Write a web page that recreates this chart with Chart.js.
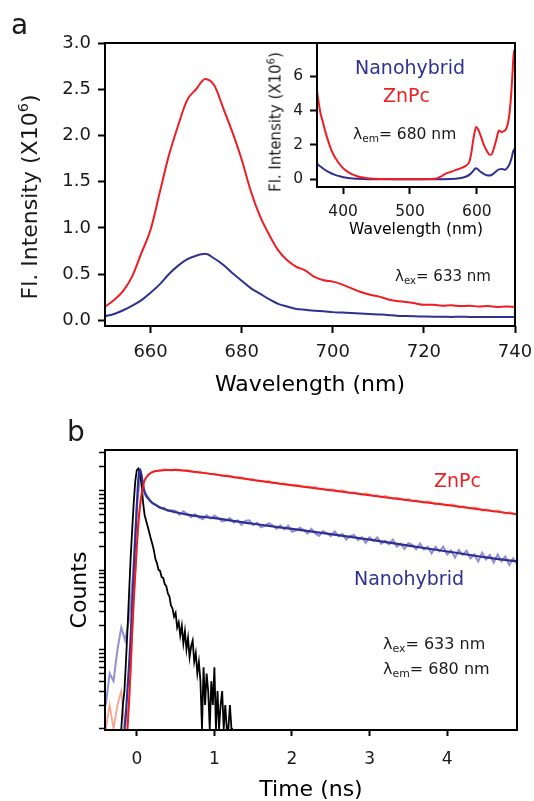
<!DOCTYPE html>
<html>
<head>
<meta charset="utf-8">
<script src="https://cdn.jsdelivr.net/npm/chart.js@4.4.1/dist/chart.umd.min.js"></script>
<style>
  body { margin: 0; background: #fff; }
  #fig { position: relative; width: 534px; height: 801px; overflow: hidden; font-family: 'DejaVu Sans', sans-serif; color: #1a1a1a; }
  canvas { position: absolute; }
  .lbl { position: absolute; white-space: nowrap; line-height: 1; }
  .rot { transform: translate(-50%, -50%) rotate(-90deg); }
  .sub { font-size: 0.68em; position: relative; top: 0.32em; }
  .sup { font-size: 0.66em; position: relative; top: -0.6em; }
</style>
</head>
<body>
<div id="fig">
  <canvas id="emission" width="534" height="400" style="left:0;top:0"></canvas>
  <canvas id="excitation" width="272" height="215" style="left:262px;top:30px"></canvas>
  <canvas id="decay" width="534" height="401" style="left:0;top:400px"></canvas>

  <div class="lbl" style="left:11px;top:11px;font-size:28px">a</div>
  <div class="lbl rot" style="left:29.5px;top:197px;font-size:22px">Fl. Intensity (X10<span class="sup">6</span>)</div>
  <div class="lbl rot" style="left:275.5px;top:121.5px;font-size:15px">Fl. Intensity (X10<span class="sup">6</span>)</div>
  <div class="lbl" style="left:355px;top:58px;font-size:19px;color:#2e3192">Nanohybrid</div>
  <div class="lbl" style="left:383px;top:86px;font-size:19px;color:#ee1d23">ZnPc</div>
  <div class="lbl" style="left:353px;top:127px;font-size:15.5px">λ<span class="sub">em</span>= 680 nm</div>
  <div class="lbl" style="left:395px;top:269px;font-size:15px">λ<span class="sub">ex</span>= 633 nm</div>

  <div class="lbl" style="left:67px;top:418px;font-size:28px">b</div>
  <div class="lbl" style="left:434px;top:471px;font-size:19px;color:#ee1d23">ZnPc</div>
  <div class="lbl" style="left:354px;top:569px;font-size:19px;color:#2e3192">Nanohybrid</div>
  <div class="lbl" style="left:383px;top:636px;font-size:16px">λ<span class="sub">ex</span>= 633 nm</div>
  <div class="lbl" style="left:383px;top:661px;font-size:16px">λ<span class="sub">em</span>= 680 nm</div>
</div>

<script>
// emission spectra, excitation at 633 nm (intensity in units of 10^6)
const wavelength = [
  650, 652, 654, 656, 658, 660, 662, 664, 666, 668,
  670, 672, 674, 676, 678, 680, 682, 684, 686, 688,
  690, 692, 694, 696, 698, 700, 702, 704, 706, 708,
  710, 712, 714, 716, 718, 720, 722, 724, 726, 728,
  730, 732, 734, 736, 738, 740,
];
const znpcEmission = [
  0.15, 0.22, 0.32, 0.48, 0.73, 0.98, 1.38, 1.78, 2.1, 2.38,
  2.5, 2.61, 2.54, 2.29, 2.03, 1.74, 1.4, 1.13, 0.93, 0.76,
  0.65, 0.58, 0.54, 0.47, 0.435, 0.42, 0.39, 0.35, 0.31, 0.28,
  0.26, 0.23, 0.21, 0.2, 0.185, 0.17, 0.17, 0.16, 0.165, 0.155,
  0.16, 0.15, 0.155, 0.145, 0.15, 0.145,
];
const hybridEmission = [
  0.045, 0.07, 0.11, 0.16, 0.22, 0.3, 0.39, 0.5, 0.59, 0.66,
  0.7, 0.72, 0.67, 0.6, 0.51, 0.43, 0.35, 0.29, 0.23, 0.18,
  0.15, 0.125, 0.115, 0.105, 0.1, 0.09, 0.085, 0.08, 0.075, 0.07,
  0.065, 0.06, 0.052, 0.048, 0.045, 0.043, 0.04, 0.04, 0.038, 0.04,
  0.038, 0.037, 0.036, 0.037, 0.036, 0.036,
];
const wavelengthTicks = [660, 680, 700, 720, 740];
const intensityTicks = [0, 0.5, 1, 1.5, 2, 2.5, 3];

// excitation spectra, emission at 680 nm
const znpcExcWl = [
  361, 363, 366, 370, 374, 378, 382, 386, 390, 394,
  400, 406, 413, 421, 430, 440, 455, 470, 490, 510,
  530, 540, 546, 552, 560, 570, 578, 584, 589, 592,
  595, 599, 602, 606, 611, 615, 619, 622, 625, 629,
  633, 637, 640, 644, 648, 651, 653, 655, 657,
];
const znpcExcitation = [
  5.15, 4.6, 3.9, 3.3, 2.7, 2.2, 1.75, 1.42, 1.15, 0.92,
  0.65, 0.46, 0.3, 0.18, 0.1, 0.05, 0.02, 0.01, 0, 0,
  0.02, 0.05, 0.15, 0.3, 0.42, 0.56, 0.68, 0.8, 1.05, 1.6,
  2.4, 3.05, 2.9, 2.5, 1.95, 1.65, 1.43, 1.45, 1.75, 2.3,
  2.85, 2.75, 2.8, 2.95, 3.6, 4.8, 6.0, 7.3, 7.6,
];
const hybridExcWl = [
  361, 366, 371, 376, 382, 388, 395, 403, 411, 420,
  436, 500, 560, 574, 584, 590, 595, 598, 601, 605,
  611, 617, 622, 627, 633, 638, 642, 646, 649, 652,
  654, 657,
];
const hybridExcitation = [
  0.9, 0.75, 0.6, 0.47, 0.35, 0.26, 0.18, 0.11, 0.06, 0.03,
  0, 0, 0.02, 0.06, 0.16, 0.3, 0.5, 0.65, 0.6, 0.45,
  0.3, 0.22, 0.25, 0.4, 0.58, 0.6, 0.55, 0.7, 0.9, 1.25,
  1.6, 1.8,
];
const excWlTicks = [400, 500, 600];
const excIntensityTicks = [0, 2, 4, 6];

// fluorescence decays (ns, counts)
const decayTime = [
  -0.4, -0.35, -0.3, -0.25, -0.2, -0.15, -0.1, -0.05, 0, 0.05,
  0.1, 0.15, 0.2, 0.25, 0.3, 0.35, 0.4, 0.45, 0.5, 0.55,
  0.6, 0.65, 0.7, 0.75, 0.8, 0.85, 0.9, 0.95, 1, 1.05,
  1.1, 1.15, 1.2, 1.25, 1.3, 1.35, 1.4, 1.45, 1.5, 1.55,
  1.6, 1.65, 1.7, 1.75, 1.8, 1.85, 1.9, 1.95, 2, 2.05,
  2.1, 2.15, 2.2, 2.25, 2.3, 2.35, 2.4, 2.45, 2.5, 2.55,
  2.6, 2.65, 2.7, 2.75, 2.8, 2.85, 2.9, 2.95, 3, 3.05,
  3.1, 3.15, 3.2, 3.25, 3.3, 3.35, 3.4, 3.45, 3.5, 3.55,
  3.6, 3.65, 3.7, 3.75, 3.8, 3.85, 3.9, 3.95, 4, 4.05,
  4.1, 4.15, 4.2, 4.25, 4.3, 4.35, 4.4, 4.45, 4.5, 4.55,
  4.6, 4.65, 4.7, 4.75, 4.8, 4.85, 4.9,
];
const znpcCounts = [
  1, 2, 1, 2, 3, 1, 2, 28, 210, 780,
  1370, 1610, 1735, 1801, 1781, 1870, 1846, 1791, 1883, 1834,
  1777, 1831, 1793, 1699, 1761, 1683, 1693, 1617, 1659, 1601,
  1529, 1569, 1559, 1471, 1491, 1492, 1399, 1415, 1406, 1318,
  1353, 1320, 1340, 1256, 1276, 1208, 1251, 1210, 1168, 1198,
  1169, 1107, 1147, 1109, 1125, 1055, 1072, 1015, 1052, 1026,
  982, 1016, 973, 930, 964, 931, 891, 932, 901, 861,
  884, 828, 866, 829, 793, 822, 802, 767, 795, 738,
  764, 738, 707, 738, 714, 669, 700, 677, 648, 677,
  655, 614, 643, 621, 594, 621, 600, 563, 588, 569,
  544, 569, 544, 515, 539, 526, 498,
];
const hybridCounts = [
  2, 5, 4, 10, 19, 13, 24, 85, 650, 1690,
  990, 815, 690, 672, 605, 612, 560, 571, 558, 500,
  551, 510, 464, 508, 464, 438, 493, 449, 488, 454,
  412, 422, 454, 396, 426, 372, 421, 426, 370, 398,
  347, 361, 391, 368, 331, 367, 327, 366, 305, 316,
  343, 323, 290, 332, 291, 271, 312, 292, 268, 308,
  268, 285, 243, 271, 279, 239, 260, 221, 260, 234,
  259, 215, 234, 212, 243, 198, 216, 185, 220, 209,
  183, 217, 182, 198, 162, 197, 173, 198, 158, 177,
  144, 179, 157, 176, 141, 158, 129, 166, 136, 156,
  124, 158, 130, 149, 116, 141, 120,
];

// instrument response
const irfTime = [
  -0.2, -0.18, -0.16, -0.14, -0.12, -0.1, -0.08, -0.06, -0.04, -0.02,
  0, 0.02, 0.04, 0.06, 0.08, 0.1, 0.12, 0.14, 0.16, 0.18,
  0.2, 0.22, 0.24, 0.26, 0.28, 0.3, 0.32, 0.34, 0.36, 0.38,
  0.4, 0.42, 0.44, 0.46, 0.48, 0.5, 0.52, 0.54, 0.56, 0.58,
  0.6, 0.62, 0.64, 0.66, 0.68, 0.7, 0.72, 0.74, 0.76, 0.78,
  0.8, 0.82, 0.84, 0.86, 0.88, 0.9, 0.92, 0.94, 0.96, 0.98,
  1, 1.02, 1.04, 1.06, 1.08, 1.1, 1.12, 1.14, 1.16, 1.18,
  1.2, 1.22, 1.24,
];
const irfCounts = [
  1, 2, 3, 7, 18, 50, 140, 320, 700, 1320,
  1820, 1900, 1650, 1250, 720, 500, 420, 355, 300, 250,
  214, 178, 138, 122, 101, 98, 82, 80, 67, 63,
  51, 47, 36, 33, 26, 29, 19, 22, 15, 20,
  12, 17, 10, 14, 8, 11, 13, 7, 9, 5,
  7, 4, 1, 6, 2, 5, 3, 1, 4, 2,
  6, 1, 3, 1, 2, 3, 1, 2, 1, 1,
  2, 1, 1,
];

// fitted decays
const znpcFitTime = [
  -0.12, -0.1, -0.08, -0.06, -0.04, -0.02, 0, 0.02, 0.04, 0.06,
  0.08, 0.1, 0.15, 0.2, 0.3, 0.4, 0.5, 0.7, 0.9, 1.2,
  1.5, 2, 2.5, 3, 3.5, 4, 4.5, 4.9,
];
const znpcFit = [
  1, 2.2, 5.6, 16, 40, 89, 200, 398, 631, 891,
  1150, 1350, 1585, 1718, 1799, 1828, 1828, 1758, 1660, 1514,
  1365, 1175, 1016, 881, 762, 661, 571, 507,
];
const hybridFitTime = [
  -0.16, -0.14, -0.12, -0.1, -0.08, -0.06, -0.04, -0.02, 0, 0.02,
  0.04, 0.06, 0.08, 0.1, 0.15, 0.2, 0.3, 0.5, 0.75, 1,
  1.5, 2, 2.5, 3, 3.5, 4, 4.5, 4.9,
];
const hybridFit = [
  1, 1.6, 3.2, 6.3, 14, 36, 96, 250, 630, 1410,
  1860, 1590, 1180, 955, 794, 708, 617, 537, 484, 452,
  385, 331, 285, 243, 204, 172, 145, 129,
];

const timeTicks = [0, 1, 2, 3, 4];
const countTicks = [
  1, 2, 3, 4, 5, 6, 7, 8, 9,
  10, 20, 30, 40, 50, 60, 70, 80, 90,
  100, 200, 300, 400, 500, 600, 700, 800, 900,
  1000, 2000, 3000,
];

const RED = "#ee1d23";
const BLUE = "#2e3192";
const LAVENDER = "#9590d6";
const SALMON = "#f7a58e";

Chart.defaults.font.family = "'DejaVu Sans', sans-serif";
Chart.defaults.color = "#1a1a1a";

const points = (xs, ys) => xs.map((x, i) => ({ x: x, y: ys[i] }));
const useTicks = (list) => (scale) => { scale.ticks = list.map((v) => ({ value: v })); };

// fixed axis sizes; drop the extra room chart.js keeps for end labels
function xSize(h) {
  return (scale) => { scale.height = h; scale.paddingLeft = 0; scale.paddingRight = 0; };
}
function ySize(w) {
  return (scale) => { scale.width = w; scale.paddingTop = 0; scale.paddingBottom = 0; };
}

// box around the plotting area
const frame = {
  id: "frame",
  afterDraw(chart) {
    const { ctx, chartArea } = chart;
    ctx.save();
    ctx.strokeStyle = "#000";
    ctx.lineWidth = 2;
    ctx.strokeRect(chartArea.left, chartArea.top, chartArea.right - chartArea.left, chartArea.bottom - chartArea.top);
    ctx.restore();
  },
};

const common = {
  responsive: false,
  animation: false,
  devicePixelRatio: 1,
  plugins: {
    legend: { display: false },
    tooltip: { enabled: false },
  },
};

function tickGrid(len) {
  return { drawOnChartArea: false, tickLength: len, tickWidth: 2, tickColor: "#000" };
}

// a: emission
new Chart(document.getElementById("emission"), {
  type: "line",
  data: {
    datasets: [
      {
        data: points(wavelength, znpcEmission),
        borderColor: RED,
        borderWidth: 2,
        pointRadius: 0,
        cubicInterpolationMode: "monotone",
      },
      {
        data: points(wavelength, hybridEmission),
        borderColor: BLUE,
        borderWidth: 2,
        pointRadius: 0,
        cubicInterpolationMode: "monotone",
      },
    ],
  },
  options: {
    ...common,
    layout: { padding: { left: 0, right: 19, top: 43, bottom: 0 } },
    scales: {
      x: {
        type: "linear",
        min: 650,
        max: 740,
        afterBuildTicks: useTicks(wavelengthTicks),
        afterFit: xSize(74),
        border: { display: false },
        grid: tickGrid(7),
        ticks: { padding: 9, font: { size: 18 } },
        title: {
          display: true,
          text: "Wavelength (nm)",
          color: "#000",
          font: { size: 22, lineHeight: 1 },
          padding: { top: 0, bottom: 4 },
        },
      },
      y: {
        min: -0.06,
        max: 3,
        afterBuildTicks: useTicks(intensityTicks),
        afterFit: ySize(105),
        border: { display: false },
        grid: tickGrid(7),
        ticks: {
          padding: 7,
          font: { size: 18 },
          callback: (v) => v.toFixed(1),
        },
      },
    },
  },
  plugins: [frame],
});

// a, inset: excitation
new Chart(document.getElementById("excitation"), {
  type: "line",
  data: {
    datasets: [
      {
        data: points(znpcExcWl, znpcExcitation),
        borderColor: RED,
        borderWidth: 2,
        pointRadius: 0,
        cubicInterpolationMode: "monotone",
      },
      {
        data: points(hybridExcWl, hybridExcitation),
        borderColor: BLUE,
        borderWidth: 2,
        pointRadius: 0,
        cubicInterpolationMode: "monotone",
      },
    ],
  },
  options: {
    ...common,
    layout: { padding: { left: 0, right: 19, top: 13, bottom: 0 } },
    scales: {
      x: {
        type: "linear",
        min: 361,
        max: 657,
        afterBuildTicks: useTicks(excWlTicks),
        afterFit: xSize(58),
        border: { display: false },
        grid: tickGrid(7),
        ticks: { padding: 9, font: { size: 15.5 } },
        title: {
          display: true,
          text: "Wavelength (nm)",
          color: "#000",
          font: { size: 15.5, lineHeight: 1 },
          padding: { top: 0, bottom: 7 },
        },
      },
      y: {
        min: -0.45,
        max: 7.95,
        afterBuildTicks: useTicks(excIntensityTicks),
        afterFit: ySize(55),
        border: { display: false },
        grid: tickGrid(7),
        ticks: { padding: 7, font: { size: 15.5 } },
      },
    },
  },
  plugins: [frame],
});

// b: decays on a log axis
new Chart(document.getElementById("decay"), {
  type: "line",
  data: {
    datasets: [
      { data: points(znpcFitTime, znpcFit), borderColor: RED, borderWidth: 2, pointRadius: 0, cubicInterpolationMode: "monotone" },
      { data: points(hybridFitTime, hybridFit), borderColor: BLUE, borderWidth: 2.2, pointRadius: 0, cubicInterpolationMode: "monotone" },
      { data: points(irfTime, irfCounts), borderColor: "#000", borderWidth: 1.8, pointRadius: 0 },
      { data: points(decayTime, znpcCounts), borderColor: SALMON, borderWidth: 1.8, pointRadius: 0 },
      { data: points(decayTime, hybridCounts), borderColor: LAVENDER, borderWidth: 2, pointRadius: 0 },
    ],
  },
  options: {
    ...common,
    layout: { padding: { left: 0, right: 17, top: 50, bottom: 0 } },
    scales: {
      x: {
        type: "linear",
        min: -0.41,
        max: 4.9,
        afterBuildTicks: useTicks(timeTicks),
        afterFit: xSize(71),
        border: { display: false },
        grid: tickGrid(6),
        ticks: { padding: 13, font: { size: 17 } },
        title: {
          display: true,
          text: "Time (ns)",
          color: "#000",
          font: { size: 22, lineHeight: 1 },
          padding: { top: 0, bottom: 0 },
        },
      },
      y: {
        type: "logarithmic",
        min: 0.97,
        max: 3270,
        afterBuildTicks: useTicks(countTicks),
        afterFit: ySize(105),
        border: { display: false },
        grid: { drawOnChartArea: false, tickLength: 6, tickWidth: 1.5, tickColor: "#000" },
        ticks: { display: false },
        title: {
          display: true,
          text: "Counts",
          color: "#000",
          font: { size: 22, lineHeight: 1 },
          padding: { top: 69, bottom: 0 },
        },
      },
    },
  },
  plugins: [frame],
});
</script>
</body>
</html>
